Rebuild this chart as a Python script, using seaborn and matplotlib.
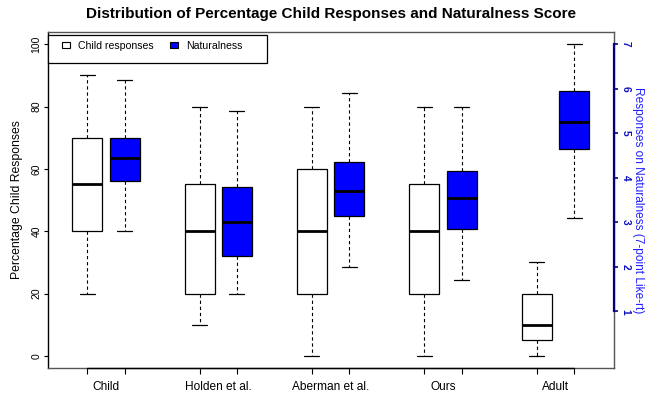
import numpy as np
import pandas as pd
import matplotlib
matplotlib.use("Agg")
import matplotlib.pyplot as plt
import seaborn as sns
from matplotlib.patches import Patch, Rectangle

# ---- data (five-number summaries: min, Q1, median, Q3, max) ----
methods = ["Child", "Holden et al.", "Aberman et al.", "Ours", "Adult"]
child_responses = [
    [20, 40, 55, 70, 90],
    [10, 20, 40, 55, 80],
    [0, 20, 40, 60, 80],
    [0, 20, 40, 55, 80],
    [0, 5, 10, 20, 30],
]
# naturalness on the 7-point Likert scale (right axis)
naturalness = [
    [2.8, 3.93, 4.44, 4.90, 6.2],
    [1.4, 2.24, 3.00, 3.80, 5.5],
    [2.0, 3.15, 3.70, 4.35, 5.9],
    [1.7, 2.84, 3.54, 4.16, 5.6],
    [3.1, 4.65, 5.25, 5.95, 7.0],
]
left_ticks = [0, 20, 40, 60, 80, 100]
right_ticks = [1, 2, 3, 4, 5, 6, 7]
series_names = ["Child responses", "Naturalness"]
series_colors = {"Child responses": "white", "Naturalness": "blue"}

SCALE = 100 / 7  # naturalness plotted on percentage axis

rows = []
for i, m in enumerate(methods):
    for v in child_responses[i]:
        rows.append({"pos": 3 * i + 1, "value": v, "series": series_names[0]})
    for v in naturalness[i]:
        rows.append({"pos": 3 * i + 2, "value": v * SCALE, "series": series_names[1]})
df = pd.DataFrame(rows)

sns.set_style("white")
plt.rcParams["font.family"] = ["Liberation Sans", "DejaVu Sans"]
plt.rcParams["text.color"] = "black"
plt.rcParams["axes.labelcolor"] = "black"
plt.rcParams["xtick.color"] = "black"
plt.rcParams["ytick.color"] = "black"

fig = plt.figure(figsize=(6.57, 3.94), dpi=100)
ax = fig.add_axes([0.0726, 0.0652, 0.8615, 0.8543])

sns.boxplot(
    data=df, x="pos", y="value", hue="series", native_scale=True, dodge=False,
    width=0.8, whis=(0, 100), palette=series_colors, saturation=1,
    linecolor="black", linewidth=0.9, showfliers=False, legend=False, ax=ax,
    medianprops=dict(linewidth=2.0, color="black"),
    whiskerprops=dict(linestyle=(0, (3, 2.5)), linewidth=0.8, color="black"),
    capprops=dict(linewidth=0.9, color="black"),
    boxprops=dict(edgecolor="black"),
)

ax.set_xlim(-0.05, 15.05)
ax.set_ylim(-4, 104)

# x axis: ticks at each box, labels at group centres
box_pos = sorted(df["pos"].unique())
ax.set_xticks(box_pos)
ax.set_xticklabels([])
ax.set_xticks([3 * i + 1.5 for i in range(len(methods))], minor=True)
ax.set_xticklabels(methods, minor=True, fontsize=8.6)
ax.tick_params(axis="x", which="major", direction="out", length=4, width=0.8,
               color="black", bottom=True)
ax.tick_params(axis="x", which="minor", length=0, pad=9)
ax.set_xlabel("")

ax.set_yticks(left_ticks)
ax.set_yticklabels([str(t) for t in left_ticks], rotation=90, va="center",
                   fontsize=7.5)
ax.tick_params(axis="y", direction="out", length=3, width=0.8, color="black",
               left=True, pad=1.5)
ax.set_ylabel("Percentage Child Responses", fontsize=8.8, labelpad=6)

for s in ["top", "right", "bottom"]:
    ax.spines[s].set_color("#555555")
    ax.spines[s].set_linewidth(1.0)
ax.spines["left"].set_color("black")
ax.spines["left"].set_linewidth(1.0)
# black axis segment along bottom between first and last box
ax.plot([box_pos[0], box_pos[-1]], [0, 0], color="black", lw=1.0,
        transform=ax.get_xaxis_transform(), clip_on=False, zorder=5)

# right axis for naturalness
ax2 = ax.twinx()
ax2.set_ylim(-4 / SCALE, 104 / SCALE)
ax2.set_yticks(right_ticks)
ax2.set_yticklabels([str(t) for t in right_ticks], rotation=-90, va="center",
                    fontsize=7.3, fontweight="bold", color="#1010c0")
ax2.tick_params(axis="y", direction="out", length=3, width=1.2, color="#000080",
                pad=2)
for s in ["top", "left", "bottom"]:
    ax2.spines[s].set_visible(False)
ax2.spines["right"].set_color("#000080")
ax2.spines["right"].set_linewidth(1.6)
ax2.spines["right"].set_bounds(1, 7)
ax2.set_ylabel("Responses on Naturalness (7-point Like-rt)", rotation=-90,
               color="#2020ff", fontsize=8.6, labelpad=5, va="center")

# legend (R-style box drawn separately)
handles = [Patch(facecolor=series_colors[n], edgecolor="black", linewidth=0.8)
           for n in series_names]
leg = ax.legend(handles, series_names, ncol=2, loc="center left",
                bbox_to_anchor=(0.0253, 0.958), fontsize=7.6, frameon=False,
                handlelength=0.8, handleheight=0.6, columnspacing=1.5,
                borderpad=0.0, handletextpad=0.75, borderaxespad=0.0)
ax.add_patch(Rectangle((0.0008, 0.907), 0.3867, 0.083, transform=ax.transAxes,
                       facecolor="white", edgecolor="black", linewidth=0.9,
                       zorder=4, clip_on=False))
leg.set_zorder(6)

ax.set_title("Distribution of Percentage Child Responses and Naturalness Score",
             fontsize=11, fontweight="bold", pad=10, color="black")

fig.savefig("out.png", dpi=100)
